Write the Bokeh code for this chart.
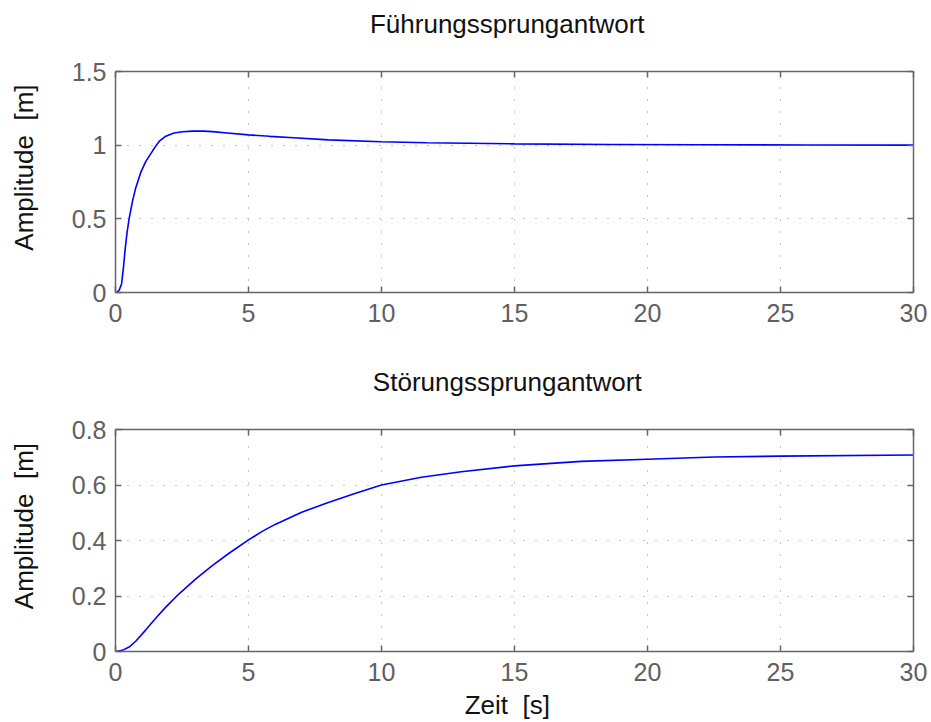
from bokeh.plotting import figure
from bokeh.layouts import column
from bokeh.models import (LinearAxis, FixedTicker, Range1d, CustomJSTickFormatter,
                          CustomLabelingPolicy)
from bokeh.embed import file_html
from bokeh.resources import INLINE

# --- data ---
t_ref = [0, 0.04, 0.14, 0.23, 0.30, 0.36, 0.43, 0.51, 0.64, 0.76, 0.95, 1.14, 1.39, 1.5,
         1.64, 1.89, 2.2, 2.52, 2.9, 3.3, 3.65, 4.2, 5.0, 5.8, 6.7, 8.0, 10.0, 11.7,
         15.0, 18.6, 22.0, 26.0, 30.0]
y_ref = [0, 0.0, 0.016, 0.06, 0.17, 0.29, 0.40, 0.50, 0.62, 0.71, 0.815, 0.89, 0.96, 0.99,
         1.025, 1.061, 1.083, 1.091, 1.095, 1.095, 1.092, 1.083, 1.07, 1.06, 1.05, 1.036,
         1.023, 1.016, 1.009, 1.005, 1.003, 1.001, 1.0]

t_dist = [0, 0.26, 0.51, 0.76, 1.14, 1.52, 1.89, 2.39, 3.02, 3.65, 4.27, 5.0, 5.5, 6.0,
          7.0, 8.0, 9.0, 10.0, 11.5, 13.0, 15.0, 17.5, 20.0, 22.5, 25.0, 30.0]
y_dist = [0, 0.004, 0.016, 0.037, 0.078, 0.121, 0.160, 0.208, 0.262, 0.310, 0.354, 0.402,
          0.432, 0.458, 0.502, 0.537, 0.569, 0.600, 0.628, 0.648, 0.669, 0.685, 0.693,
          0.701, 0.704, 0.708]

x_ticks = [0, 5, 10, 15, 20, 25, 30]
y_ticks_ref = [0, 0.5, 1, 1.5]
y_ticks_dist = [0, 0.2, 0.4, 0.6, 0.8]

NB = "\u00a0"
title_ref = "Führungssprungantwort" + NB * 2
title_dist = "Störungssprungantwort" + NB * 2
ylabel = NB * 4 + "Amplitude" + NB + " [m]"
xlabel = "Zeit" + NB + " [s]" + NB * 2

FONT = "Liberation Sans"
AXC = "#666666"
fmt = CustomJSTickFormatter(code="return tick.toString();")
hide_all = CustomLabelingPolicy(code="for (const i of indices) { indices.unset(i) }\nreturn indices")


def style_axis(ax, ticks, show_labels=True, standoff=9):
    ax.ticker = FixedTicker(ticks=ticks)
    ax.formatter = fmt
    ax.axis_line_color = AXC
    ax.axis_line_width = 1.5
    ax.major_tick_line_color = AXC
    ax.major_tick_line_width = 1.5
    ax.major_tick_in = 6
    ax.major_tick_out = 0
    ax.minor_tick_line_color = None
    ax.major_label_text_font = FONT
    ax.major_label_text_color = "#606060"
    if show_labels:
        ax.major_label_text_font_size = "25px"
        ax.major_label_standoff = standoff
    else:
        ax.major_label_text_font_size = "0px"
        ax.major_label_standoff = 0
        ax.major_label_policy = hide_all
    ax.axis_label_text_font = FONT
    ax.axis_label_text_font_size = "26px"
    ax.axis_label_text_font_style = "normal"
    ax.axis_label_text_color = "#111111"


def make(title, t, y, yr, yticks, top, bottom, xl=None):
    p = figure(width=931, height=361, x_range=Range1d(0, 30), y_range=Range1d(*yr),
               output_backend="svg", toolbar_location=None, title=title,
               min_border_left=115, min_border_right=18,
               min_border_top=top, min_border_bottom=bottom)
    p.title.align = "center"
    p.title.text_font = FONT
    p.title.text_font_size = "26px"
    p.title.text_font_style = "normal"
    p.title.text_color = "#111111"
    p.title.standoff = 6
    p.outline_line_color = None
    style_axis(p.xaxis[0], x_ticks, standoff=11)
    style_axis(p.yaxis[0], yticks, standoff=9)
    p.yaxis[0].axis_label = ylabel
    p.yaxis[0].axis_label_standoff = 30
    if xl:
        p.xaxis[0].axis_label = xl
        p.xaxis[0].axis_label_standoff = 6
    ax_top = LinearAxis()
    style_axis(ax_top, x_ticks, show_labels=False)
    p.add_layout(ax_top, "above")
    # invisible spacer between the frame's top ticks and the title
    spacer = LinearAxis()
    style_axis(spacer, x_ticks, show_labels=False)
    spacer.axis_line_color = None
    spacer.major_tick_in = 0
    spacer.major_tick_out = 30
    spacer.major_tick_line_alpha = 0.0
    p.add_layout(spacer, "above")
    ax_right = LinearAxis()
    style_axis(ax_right, yticks, show_labels=False)
    p.add_layout(ax_right, "right")
    for g in (p.xgrid[0], p.ygrid[0]):
        g.grid_line_color = "#888888"
        g.grid_line_dash = "1 11"
        g.grid_line_width = 1
    p.xgrid[0].ticker = FixedTicker(ticks=x_ticks)
    p.ygrid[0].ticker = FixedTicker(ticks=yticks)
    p.line(t, y, line_color="#0000ff", line_width=1.6)
    return p


p1 = make(title_ref, t_ref, y_ref, (0, 1.5), y_ticks_ref, 71, 69)
p2 = make(title_dist, t_dist, y_dist, (0, 0.8), y_ticks_dist, 68, 71, xl=xlabel)

layout = column(p1, p2, spacing=0)
open("out.html", "w").write(file_html(layout, INLINE))
